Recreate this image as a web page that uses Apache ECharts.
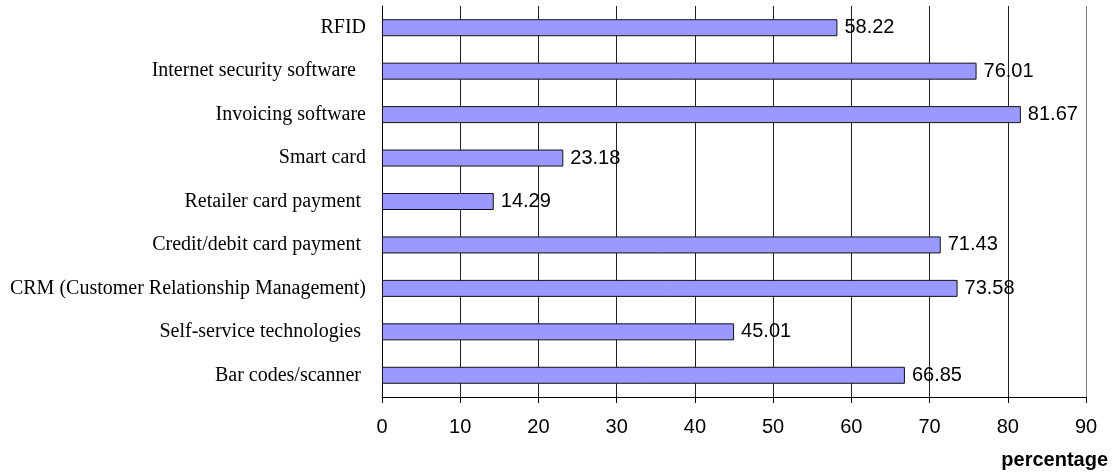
<!DOCTYPE html>
<html>
<head>
<meta charset="utf-8">
<script src="https://cdn.jsdelivr.net/npm/echarts@6/dist/echarts.min.js"></script>
<style>
  html, body { margin: 0; padding: 0; background: #fff; }
  #chart { width: 1117px; height: 473px; }
</style>
</head>
<body>
<div id="chart"></div>
<script>
// Technologies, listed bottom to top
const categories = [
  'Bar codes/scanner ',
  'Self-service technologies ',
  'CRM (Customer Relationship Management)',
  'Credit/debit card payment ',
  'Retailer card payment ',
  'Smart card',
  'Invoicing software',
  'Internet security software  ',
  'RFID'
];
const values = [66.85, 45.01, 73.58, 71.43, 14.29, 23.18, 81.67, 76.01, 58.22];
const axisTitle = 'percentage';

const chart = echarts.init(document.getElementById('chart'), null, { renderer: 'canvas' });

// Vertical grid lines: dark grey, with the outer one at 90 a lighter grey
const gridColors = ['#222', '#222', '#222', '#222', '#222', '#222', '#222', '#222', '#222', '#808080'];

chart.setOption({
  animation: false,
  backgroundColor: '#fff',
  grid: { left: 382, right: 31, top: 6, bottom: 76, containLabel: false },
  xAxis: {
    type: 'value',
    min: 0,
    max: 90,
    interval: 10,
    axisLine: { show: true, lineStyle: { color: '#000', width: 1 } },
    axisTick: { show: true, length: 6, lineStyle: { color: '#000' } },
    axisLabel: {
      margin: 20,
      color: '#000',
      fontFamily: 'Liberation Sans',
      fontSize: 20
    },
    splitLine: { show: true, lineStyle: { color: gridColors, width: 1 } }
  },
  yAxis: {
    type: 'category',
    data: categories,
    axisLine: { show: true, lineStyle: { color: '#000', width: 1 } },
    axisTick: { show: false },
    axisLabel: {
      margin: 16,
      color: '#000',
      fontFamily: 'Liberation Serif',
      fontSize: 20
    }
  },
  series: [{
    type: 'bar',
    data: values,
    barWidth: 17,
    itemStyle: { color: '#9999ff', borderColor: '#111', borderWidth: 1 },
    label: {
      show: true,
      position: 'right',
      distance: 7,
      color: '#000',
      fontFamily: 'Liberation Sans',
      fontSize: 20,
      formatter: p => p.value.toFixed(2)
    }
  }],
  graphic: [{
    type: 'text',
    right: 9,
    top: 450,
    style: {
      text: axisTitle,
      fill: '#000',
      font: 'bold 20px "Liberation Sans"'
    }
  }]
});
</script>
</body>
</html>
